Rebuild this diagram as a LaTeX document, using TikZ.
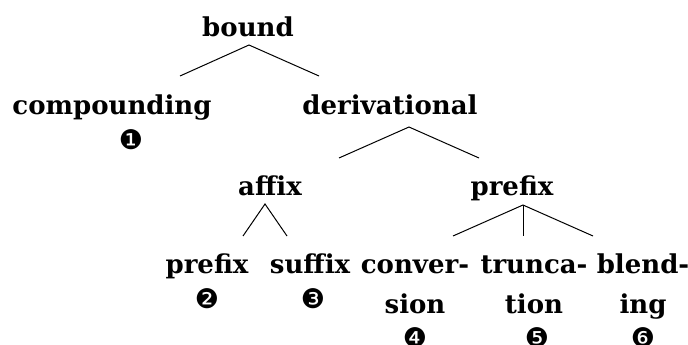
\documentclass[tikz,border=0pt]{standalone}
\usepackage{fontspec}
\setmainfont{DejaVu Serif}
\newfontfamily\dingfont{DejaVu Sans}
\begin{document}
\begin{tikzpicture}[x=1pt,y=-1pt,
  lbl/.style={font=\fontsize{26}{40}\selectfont\bfseries, inner sep=0pt, anchor=base, align=center},
  num/.style={font=\fontsize{27}{27}\selectfont\dingfont, inner sep=0pt, anchor=center},
  branch/.style={line width=1pt, black}]
\useasboundingbox (0,0) rectangle (688,345);

% labels (two-line labels are placed by the baseline of their last line)
\node[lbl] (bound) at (248,37) {bound};
\node[lbl] (comp) at (112,114) {compounding};
\node[lbl] (deriv) at (390,114) {derivational};
\node[lbl] (affix) at (270,195) {affix};
\node[lbl] (pref2) at (512,195) {prefix};
\node[lbl] (pref1) at (207,273) {prefix};
\node[lbl] (suff) at (310,273) {suffix};
\node[lbl] (conv) at (415,313) {conver-\\sion};
\node[lbl] (trunc) at (534,313) {trunca-\\tion};
\node[lbl] (blend) at (643,313) {blend-\\ing};

% numbered markers
\node[num] (n1) at (131,139.5) {❶};
\node[num] (n2) at (207,298.5) {❷};
\node[num] (n3) at (313,298.5) {❸};
\node[num] (n4) at (415,337.5) {❹};
\node[num] (n5) at (537,337.5) {❺};
\node[num] (n6) at (643,337.5) {❻};

% branch points
\coordinate (bound-b) at (249,45);
\coordinate (comp-t) at (180,76);
\coordinate (deriv-t) at (319,76);
\coordinate (deriv-b) at (409,127);
\coordinate (affix-t) at (339,158);
\coordinate (pref2-t) at (479,158);
\coordinate (affix-b) at (265,204);
\coordinate (pref1-t) at (243,236);
\coordinate (suff-t) at (287,236);
\coordinate (pref2-b) at (523,205);
\coordinate (conv-t) at (453,236);
\coordinate (trunc-t) at (523,236);
\coordinate (blend-t) at (593,236);

\draw[branch] (comp-t) -- (bound-b) -- (deriv-t);
\draw[branch] (affix-t) -- (deriv-b) -- (pref2-t);
\draw[branch] (pref1-t) -- (affix-b) -- (suff-t);
\draw[branch] (conv-t) -- (pref2-b) -- (blend-t);
\draw[branch] (pref2-b) -- (trunc-t);
\end{tikzpicture}
\end{document}
